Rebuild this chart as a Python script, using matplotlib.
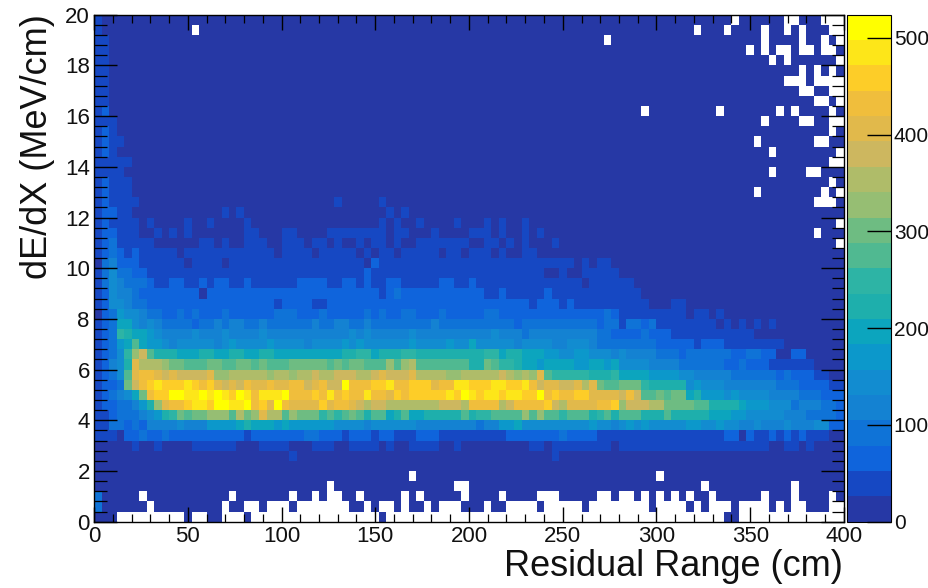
import matplotlib
matplotlib.use('Agg')
import matplotlib.pyplot as plt
from matplotlib.colors import ListedColormap
from matplotlib.ticker import MultipleLocator
import numpy as np

plt.rcParams['font.family'] = ['Liberation Sans', 'DejaVu Sans']

n_bands = 20    # Number of colour bands on the palette
z_max = 524     # Top of the colour scale
band_width = z_max / n_bands

# Band index of every cell, top row first (y 20 to 0), 100 columns, "." is an empty cell
cell_bands = [
    "1000000000 0000000000 0000000000 0000000000 0000000000 0000000000 0000000000 0000000000 00000.0000 00..000...",
    "1000000000 000.000000 0000000000 0000000000 0000000000 0000000000 0000000000 0000000000 .000.0000. 00.0.000..",
    "1100000000 0000000000 0000000000 0000000000 0000000000 0000000000 00000000.0 0000000000 000000000. 0000.00.0.",
    "1100000000 0000000000 0000000000 0000000000 0000000000 0000000000 0000000000 0000000000 0000000.0. 0..0..0..0",
    "1100000000 0000000000 0000000000 0000000000 0000000000 0000000000 0000000000 0000000000 0000000000 .0.000000.",
    "1100000000 0000000000 0000000000 0000000000 0000000000 0000000000 0000000000 0000000000 0000000000 0000.0.0.0",
    "1100000000 0000000000 0000000000 0000000000 0000000000 0000000000 0000000000 0000000000 0000000000 00...0....",
    "1100000000 0000000000 0000000000 0000000000 0000000000 0000000000 0000000000 0000000000 0000000000 0000..00..",
    "1100000000 0000000000 0000000000 0000000000 0000000000 0000000000 0000000000 0000000000 0000000000 000000..0.",
    "1200000000 0000000000 0000000000 0000000000 0000000000 0000000000 0000000000 000.000000 000.000000 0.0.0000.0",
    "1110000000 0000000000 0000000000 0000000000 0000000000 0000000000 0000000000 0000000000 000000000. 0000..00..",
    "1210000000 0000000000 0000000000 0000000000 0000000000 0000000000 0000000000 0000000000 0000000000 00000000.0",
    "1211000000 0000000000 0000000000 0000000000 0000000000 0000000000 0000000000 0000000000 00000000.0 000000..00",
    "1210000000 0000000000 0000000000 0000000000 0000000000 0000000000 0000000000 0000000000 0000000000 .00000000.",
    "1111100000 0000000000 0000000000 0000000000 0000000000 0000000000 0000000000 0000000000 0000000000 00000000..",
    "1111000000 0000000000 0000000000 0000000000 0000000000 0000000000 0000000000 0000000000 0000000000 .0000..000",
    "1211100000 0000000000 0000000000 0000000000 0000000000 0000000000 0000000000 0000000000 0000000000 00000000.0",
    "1211100000 0000000000 0000000000 0000000000 0000000000 0000000000 0000000000 0000000000 00000000.0 0000000.0.",
    "1211110000 0000000000 0000000000 0010000010 0000000000 0000000000 0000000000 0000000000 0000000000 000000...0",
    "1221100000 0000000101 0000000000 0000000001 0100000000 0000000000 0000000000 0000000000 0000000000 0000000000",
    "1211110100 0010010000 1000000000 0000000010 1001000010 0010100100 0000000000 0000000000 0000000000 000000000.",
    "1221110010 1010000000 1100011000 0111111110 1100010000 1110100101 0000000000 0000000000 0000000000 000000.000",
    "1231111100 0000110100 1110011101 1010010110 1001111111 0011010100 0100000000 0000000000 0000000000 000000000.",
    "1232121111 1011111111 1111011110 1111101011 0111110110 1110100110 0000000000 0000000000 0000000000 0000000000",
    "0342221111 1101111011 1111111111 1111110211 1111111111 1111111111 1111010110 0000000000 0000000000 0000000000",
    "1353322111 1111111111 1111111111 1111112111 1111111111 1111111111 0010011111 0000000000 0000000000 0000000000",
    "1354333211 2211212211 2111111222 2112212112 2111112211 2111111111 1111101111 1100000000 0000000000 0000000000",
    "1254432222 2222022222 2222222222 2222222212 3222222222 2211211111 2111111111 1110000000 0000000000 0000000000",
    "1255433222 2222222222 2222122221 1222222222 2222222222 2222222212 2212111111 1111000110 0000000000 0000000000",
    "0236554332 2323222322 2222333222 3222223232 2332223222 2233222222 2222222232 1111111110 1101000000 0000000000",
    "1237754543 3332334344 3343333334 3344334333 3333343333 3333332333 3333333233 1332311111 1110101010 1000000000",
    "1239877654 4445444544 4454444444 4444545444 4454444444 4445444344 4444444332 2223222111 1111111100 0000000000",
    "12367a7665 4555554565 5556555545 5556565555 5565555655 7555554555 5445554333 3333322222 1222111111 1100000000",
    "12359cea88 8777887788 7788777777 7778899788 8998888888 8899788777 6655665554 5444433323 3333322332 2002200000",
    "12458fdddc bbaaabbaab babaaabbbb bababbaaac acdaaaaaaa 88ba998776 7777667767 5555444433 3333223222 1111110000",
    "1235afggfe feeeefccdd dddcddcdde ddeeeddefe eefddddccd ddddedcdcf a999998889 7777666655 4444433333 3232221100",
    "1223beghih hhihghfefe gffgffggef geejggghhi gghhhfggii hhhiihhige ffeefdfbaa bbb9888885 6555444444 4333222211",
    "123457bghh jjiijijihj igiiijgggh gighggiggf hghhhhhihj ihiihiihhj ghgghhffff egeaababb7 8666565555 4444333222",
    "12233468cf gghiihjjii jghfjgffff hfggfedeed ddddddeeed ggggdegggg hedffffggh ceeeddbbbb aa88887666 5553444332",
    "1123334568 9babbcccad bcfddacbbb 9a9aba8aa7 8a7788888a 899aaaacac aa9aaa89a8 aaa888a888 8877766555 5544433332",
    "1133232444 4544466667 8777676666 6655554555 5554444444 4344667555 5555556554 5656555556 6556554454 4454445522",
    "1110223223 2222222222 1222222233 2221222122 1112221111 1111122222 2232222111 1111111111 1111220211 2121211100",
    "0000010010 0001111110 0011110001 1100111101 0011110010 0000000011 0111111110 1111111111 1111111111 0011010000",
    "0000000000 0000000000 0000001000 0000000000 0000000000 0000000000 0100000000 0000000000 0000000000 0000000000",
    "0000000000 0000000000 0000000000 0000000000 0000000000 0000000000 0000000000 0000000000 0000000000 0000000000",
    "0000000000 0000000000 0000000000 0000000000 00.0000000 0000000000 0000000000 00000.0000 0000000000 0000000000",
    "0000000000 0000000000 0000000000 0.00000000 00000000.. 0000000000 0000000000 0000000000 0.00000000 000.000000",
    "300000.000 00000000.0 000000.00. 0..00.0000 0.0.00000. 0000.0000. ..00000..0 ..0.0.0.0. 00.000000. 000.0000.0",
    "3000000.00 0000000.00 ..0...0... ....00.0.. 0.00.0...0 00.00....0 .....0.... ....0....0 .0...0.... 0.0..000..",
    "000....... ..0..00... 0......... ........0. .......... .......... .......... .......... ....00.... ..........",
]

x_ticks = [0, 50, 100, 150, 200, 250, 300, 350, 400]
y_ticks = [0, 2, 4, 6, 8, 10, 12, 14, 16, 18, 20]
z_ticks = [0, 100, 200, 300, 400, 500]
x_title = 'Residual Range (cm)'
y_title = 'dE/dX (MeV/cm)'

# Colour of each band, bottom band first
band_rgb = [(38, 56, 165), (22, 72, 195), (15, 100, 220), (15, 115, 215), (20, 130, 210),
            (18, 140, 208), (12, 152, 203), (12, 165, 190), (30, 175, 172), (45, 180, 165),
            (80, 185, 145), (110, 188, 130), (150, 190, 115), (175, 188, 105), (205, 183, 95),
            (225, 185, 75), (240, 190, 60), (253, 205, 40), (253, 230, 25), (255, 255, 0)]
band_chars = '0123456789abcdefghij'

counts = []
for row in cell_bands[::-1]:   # Flip so that row 0 is at y = 0
    cells = row.replace(' ', '')
    counts.append([np.nan if c == '.' else (band_chars.index(c) + 0.5) * band_width for c in cells])
counts = np.ma.masked_invalid(np.array(counts))

W, H = 929, 588
fig = plt.figure(figsize=(W / 100, H / 100), dpi=100, facecolor='white')
ax = fig.add_axes([94 / W, 1 - 521.7 / H, 750 / W, 507 / H])
cax = fig.add_axes([847 / W, 1 - 521.7 / H, 44 / W, 507 / H])

cmap = ListedColormap([(r / 255, g / 255, b / 255) for r, g, b in band_rgb])
cmap.set_bad('white')
x_edges = np.linspace(0, 400, counts.shape[1] + 1)
y_edges = np.linspace(0, 20, counts.shape[0] + 1)
mesh = ax.pcolormesh(x_edges, y_edges, counts, cmap=cmap, vmin=0, vmax=z_max, linewidth=0, rasterized=True)

ax.set_xlim(0, 400)
ax.set_ylim(0, 20)
ax.set_xticks(x_ticks)
ax.set_yticks(y_ticks)
ax.xaxis.set_minor_locator(MultipleLocator(10))
ax.yaxis.set_minor_locator(MultipleLocator(0.4))
ax.tick_params(axis='x', which='major', direction='in', top=True, length=11, width=1.0, labelsize=16, pad=3, labelcolor='#111111')
ax.tick_params(axis='x', which='minor', direction='in', top=True, length=5.5, width=0.9)
ax.tick_params(axis='y', which='major', direction='in', right=True, length=16.5, width=1.0, labelsize=16, pad=3, labelcolor='#111111')
ax.tick_params(axis='y', which='minor', direction='in', right=True, length=9, width=0.9)
for spine in ax.spines.values():
    spine.set_linewidth(1.0)

fig.text(843 / W, 1 - 566 / H, x_title, ha='right', va='center', fontsize=26, color='#111111')
fig.text(38 / W, 1 - 14 / H, y_title, ha='center', va='top', rotation=90, fontsize=26, color='#111111')

cb = fig.colorbar(mesh, cax=cax)
cb.set_ticks(z_ticks)
cb.ax.tick_params(axis='y', direction='in', right=True, length=17, width=1.0, labelsize=15, pad=2, labelcolor='#111111')
cb.ax.minorticks_off()
cb.outline.set_linewidth(0.8)

fig.savefig('out.png', dpi=100)
